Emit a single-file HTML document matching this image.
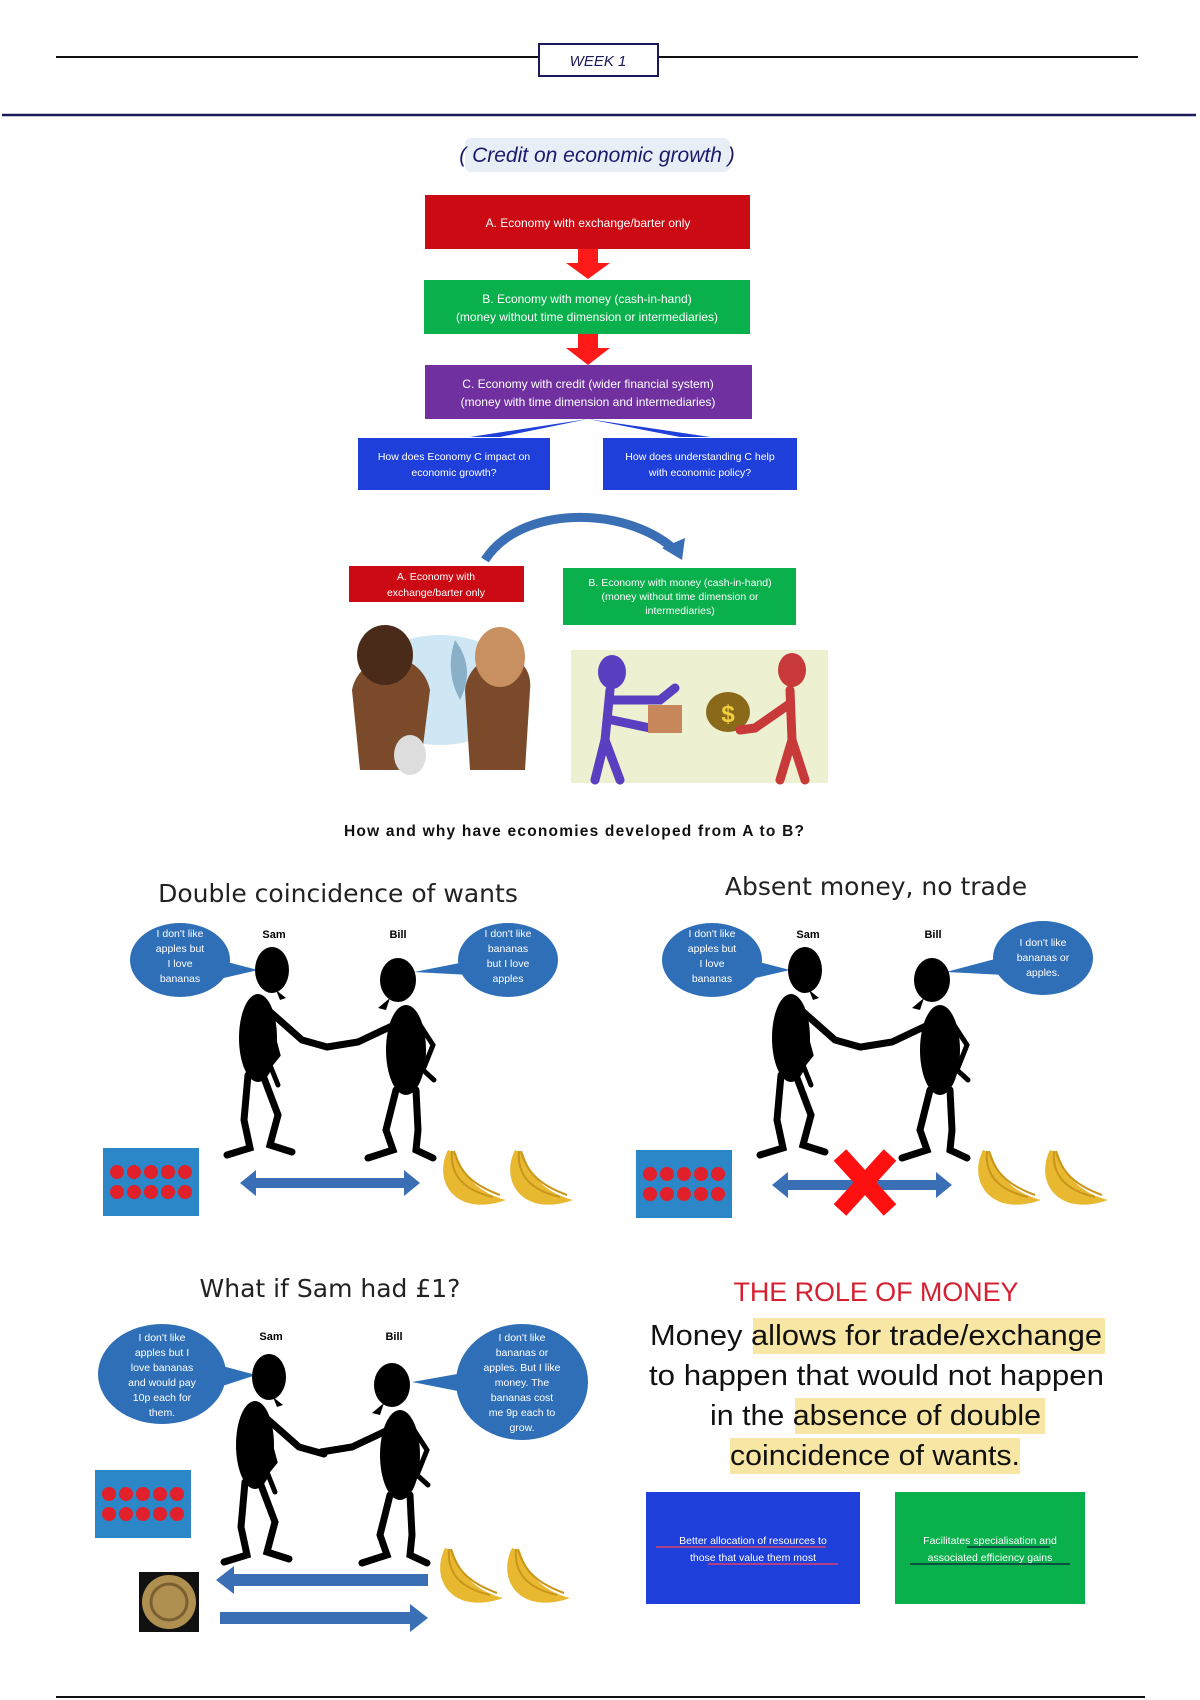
<!DOCTYPE html>
<html><head><meta charset="utf-8"><style>
html,body{margin:0;padding:0;background:#fff;}
svg{display:block;}
text{font-family:"Liberation Sans",sans-serif;}
.n{font-family:"Liberation Sans Narrow","Liberation Sans",sans-serif;fill:#fff;font-size:12px;text-anchor:middle;}
.b{font-family:"Liberation Sans Narrow","Liberation Sans",sans-serif;fill:#fff;font-size:10.5px;text-anchor:middle;}
.t{font-family:"DejaVu Sans","Liberation Sans",sans-serif;text-anchor:middle;fill:#222;}
</style></head><body>
<svg width="1200" height="1700" viewBox="0 0 1200 1700" xmlns="http://www.w3.org/2000/svg">
<defs>
 <g id="sam">
  <ellipse cx="0" cy="0" rx="17" ry="23" fill="#000"/>
  <path d="M4 20 l10 8 l-6 2z" fill="#000"/>
  <ellipse cx="-14" cy="68" rx="19" ry="44" fill="#000"/>
  <path d="M-4 40 L30 70 L55 77" stroke="#000" stroke-width="7" fill="none" stroke-linecap="round"/>
  <path d="M-2 55 L6 85 L-2 95 L6 115" stroke="#000" stroke-width="5" fill="none" stroke-linecap="round"/>
  <path d="M-24 105 L-28 150 L-22 178 L-45 185" stroke="#000" stroke-width="7" fill="none" stroke-linecap="round"/>
  <path d="M-8 108 L6 145 L-2 175 L20 182" stroke="#000" stroke-width="7" fill="none" stroke-linecap="round"/>
 </g>
 <g id="bill">
  <ellipse cx="0" cy="0" rx="18" ry="22" fill="#000"/>
  <path d="M-8 18 l-12 10 l8 2z" fill="#000"/>
  <ellipse cx="8" cy="70" rx="20" ry="45" fill="#000"/>
  <path d="M-4 45 L-40 62 L-71 67" stroke="#000" stroke-width="7" fill="none" stroke-linecap="round"/>
  <path d="M22 45 L35 65 L25 90 L36 100" stroke="#000" stroke-width="5" fill="none" stroke-linecap="round"/>
  <path d="M-2 110 L-12 150 L-5 170 L-30 178" stroke="#000" stroke-width="7" fill="none" stroke-linecap="round"/>
  <path d="M18 110 L20 150 L18 170 L35 178" stroke="#000" stroke-width="7" fill="none" stroke-linecap="round"/>
 </g>
 <g id="apples">
  <rect x="0" y="0" width="96" height="68" fill="#2b87c8"/>
  <g fill="#e0202a">
   <circle cx="14" cy="24" r="7"/><circle cx="31" cy="24" r="7"/><circle cx="48" cy="24" r="7"/><circle cx="65" cy="24" r="7"/><circle cx="82" cy="24" r="7"/>
   <circle cx="14" cy="44" r="7"/><circle cx="31" cy="44" r="7"/><circle cx="48" cy="44" r="7"/><circle cx="65" cy="44" r="7"/><circle cx="82" cy="44" r="7"/>
  </g>
 </g>
 <g id="banana">
  <path d="M10 5 C0 25 5 50 30 58 C45 62 60 58 68 55 C50 50 28 40 18 8z" fill="#e8b830"/>
  <path d="M14 6 C12 30 25 45 55 52" stroke="#c9951a" stroke-width="2" fill="none"/>
  <path d="M16 6 C22 28 35 40 62 50" stroke="#c9951a" stroke-width="2" fill="none"/>
 </g>
</defs>

<!-- header -->
<line x1="56" y1="57" x2="1138" y2="57" stroke="#111" stroke-width="2"/>
<rect x="539" y="44" width="119" height="32" fill="#fff" stroke="#1a1a5a" stroke-width="2"/>
<text x="598" y="66" text-anchor="middle" font-size="15" font-style="italic" fill="#1a1a5a">WEEK 1</text>
<line x1="2" y1="115" x2="1196" y2="115" stroke="#1a1a5a" stroke-width="2.5"/>
<rect x="465" y="138" width="265" height="34" rx="6" fill="#e8eef5"/>
<text x="597" y="162" text-anchor="middle" font-size="21" font-style="italic" fill="#1a1a6a" font-family="Liberation Serif,serif">( Credit on economic growth )</text>

<!-- flowchart -->
<rect x="425" y="195" width="325" height="54" fill="#cc0a14"/>
<text class="n" x="588" y="227">A. Economy with exchange/barter only</text>
<path d="M578 249 h20 v14 h12 l-22 16 l-22 -16 h12z" fill="#ff1a1a"/>
<rect x="424" y="280" width="326" height="54" fill="#0ab04c"/>
<text class="n" x="587" y="303">B. Economy with money (cash-in-hand)</text>
<text class="n" x="587" y="321">(money without time dimension or intermediaries)</text>
<path d="M578 334 h20 v14 h12 l-22 17 l-22 -17 h12z" fill="#ff1a1a"/>
<rect x="425" y="365" width="327" height="54" fill="#7030a0"/>
<text class="n" x="588" y="388">C. Economy with credit (wider financial system)</text>
<text class="n" x="588" y="406">(money with time dimension and intermediaries)</text>
<path d="M588 419 L470 437 L500 437z" fill="#1f3fdb"/>
<path d="M588 419 L680 437 L710 437z" fill="#1f3fdb"/>
<rect x="358" y="438" width="192" height="52" fill="#1f3fdb"/>
<text class="b" x="454" y="460">How does Economy C impact on</text>
<text class="b" x="454" y="476">economic growth?</text>
<rect x="603" y="438" width="194" height="52" fill="#1f3fdb"/>
<text class="b" x="700" y="460">How does understanding C help</text>
<text class="b" x="700" y="476">with economic policy?</text>

<!-- A to B slide -->
<path d="M485 560 C520 505 625 505 675 550" stroke="#3a6fb5" stroke-width="9" fill="none"/>
<path d="M662 548 L682 560 L685 538z" fill="#3a6fb5"/>
<rect x="349" y="566" width="175" height="36" fill="#cc0a14"/>
<text class="b" x="436" y="580" font-size="12">A. Economy with</text>
<text class="b" x="436" y="596" font-size="12">exchange/barter only</text>
<rect x="563" y="568" width="233" height="57" fill="#0ab04c"/>
<text class="b" x="680" y="586">B. Economy with money (cash-in-hand)</text>
<text class="b" x="680" y="600">(money without time dimension or</text>
<text class="b" x="680" y="614">intermediaries)</text>
<!-- cavemen -->
<ellipse cx="440" cy="690" rx="80" ry="55" fill="#cfe6f5"/>
<path d="M352 690 C360 650 420 645 430 690 L420 770 L360 770z" fill="#7a4a2a"/>
<ellipse cx="385" cy="655" rx="28" ry="30" fill="#4a2a18"/>
<path d="M465 690 C470 645 535 645 530 690 L525 770 L470 770z" fill="#7a4a2a"/>
<ellipse cx="500" cy="657" rx="25" ry="30" fill="#c89060"/>
<path d="M455 640 C445 670 455 690 460 700 C470 680 470 660 455 640z" fill="#8ab0c8"/>
<ellipse cx="410" cy="755" rx="16" ry="20" fill="#ddd"/>
<!-- money exchange -->
<rect x="571" y="650" width="257" height="133" fill="#eef0d2"/>
<g stroke="#5a3fc0" stroke-width="9" fill="none" stroke-linecap="round">
 <path d="M610 690 L605 740 L595 780 M605 740 L620 780"/>
 <path d="M612 700 L660 700 L675 688 M612 720 L650 728"/>
</g>
<ellipse cx="612" cy="672" rx="14" ry="17" fill="#5a3fc0"/>
<rect x="648" y="705" width="34" height="28" fill="#c8875a"/>
<ellipse cx="728" cy="712" rx="22" ry="20" fill="#8a6a1a"/>
<text x="728" y="722" text-anchor="middle" font-size="24" font-weight="bold" fill="#f0d040">$</text>
<g stroke="#c83a3a" stroke-width="9" fill="none" stroke-linecap="round">
 <path d="M790 690 L792 740 L780 780 M792 740 L805 780"/>
 <path d="M788 705 L755 728 L740 730"/>
</g>
<ellipse cx="792" cy="670" rx="14" ry="17" fill="#c83a3a"/>
<text x="574" y="836" text-anchor="middle" font-size="15.5" font-weight="bold" fill="#111" textLength="460">How and why have economies developed from A to B?</text>

<!-- Panel 1 -->
<text class="t" x="338" y="902" font-size="25">Double coincidence of wants</text>
<path d="M200 955 L258 970 L215 980z" fill="#2f6fb8"/>
<ellipse cx="180" cy="960" rx="50" ry="37" fill="#2f6fb8"/>
<text class="b" x="180" y="937">I don't like</text><text class="b" x="180" y="952">apples but</text><text class="b" x="180" y="967">I love</text><text class="b" x="180" y="982">bananas</text>
<path d="M475 960 L414 972 L470 975z" fill="#2f6fb8"/>
<ellipse cx="508" cy="960" rx="50" ry="37" fill="#2f6fb8"/>
<text class="b" x="508" y="937">I don't like</text><text class="b" x="508" y="952">bananas</text><text class="b" x="508" y="967">but I love</text><text class="b" x="508" y="982">apples</text>
<text x="274" y="938" text-anchor="middle" font-size="11" font-weight="bold">Sam</text>
<text x="398" y="938" text-anchor="middle" font-size="11" font-weight="bold">Bill</text>
<use href="#sam" x="272" y="970"/>
<use href="#bill" x="398" y="980"/>
<use href="#apples" x="103" y="1148"/>
<path d="M240 1183 L256 1170 V1178 H404 V1170 L420 1183 L404 1196 V1188 H256 V1196z" fill="#3a6fb5"/>
<use href="#banana" x="438" y="1145"/><use href="#banana" x="505" y="1145"/>

<!-- Panel 2 -->
<text class="t" x="876" y="895" font-size="25">Absent money, no trade</text>
<path d="M732 955 L790 970 L747 980z" fill="#2f6fb8"/>
<ellipse cx="712" cy="960" rx="50" ry="37" fill="#2f6fb8"/>
<text class="b" x="712" y="937">I don't like</text><text class="b" x="712" y="952">apples but</text><text class="b" x="712" y="967">I love</text><text class="b" x="712" y="982">bananas</text>
<path d="M1010 955 L946 972 L1005 975z" fill="#2f6fb8"/>
<ellipse cx="1043" cy="958" rx="50" ry="37" fill="#2f6fb8"/>
<text class="b" x="1043" y="946">I don't like</text><text class="b" x="1043" y="961">bananas or</text><text class="b" x="1043" y="976">apples.</text>
<text x="808" y="938" text-anchor="middle" font-size="11" font-weight="bold">Sam</text>
<text x="933" y="938" text-anchor="middle" font-size="11" font-weight="bold">Bill</text>
<use href="#sam" x="805" y="970"/>
<use href="#bill" x="932" y="980"/>
<use href="#apples" x="636" y="1150"/>
<path d="M772 1185 L788 1172 V1180 H936 V1172 L952 1185 L936 1198 V1190 H788 V1198z" fill="#3a6fb5"/>
<path d="M840 1155 L890 1210 M890 1155 L840 1210" stroke="#ff1010" stroke-width="17"/>
<use href="#banana" x="973" y="1145"/><use href="#banana" x="1040" y="1145"/>

<!-- Panel 3 -->
<text class="t" x="330" y="1297" font-size="25">What if Sam had £1?</text>
<path d="M200 1360 L256 1375 L210 1390z" fill="#2f6fb8"/>
<ellipse cx="162" cy="1374" rx="64" ry="50" fill="#2f6fb8"/>
<text class="b" x="162" y="1341">I don't like</text><text class="b" x="162" y="1356">apples but I</text><text class="b" x="162" y="1371">love bananas</text><text class="b" x="162" y="1386">and would pay</text><text class="b" x="162" y="1401">10p each for</text><text class="b" x="162" y="1416">them.</text>
<path d="M480 1370 L412 1382 L478 1395z" fill="#2f6fb8"/>
<ellipse cx="522" cy="1382" rx="66" ry="58" fill="#2f6fb8"/>
<text class="b" x="522" y="1341">I don't like</text><text class="b" x="522" y="1356">bananas or</text><text class="b" x="522" y="1371">apples. But I like</text><text class="b" x="522" y="1386">money. The</text><text class="b" x="522" y="1401">bananas cost</text><text class="b" x="522" y="1416">me 9p each to</text><text class="b" x="522" y="1431">grow.</text>
<text x="271" y="1340" text-anchor="middle" font-size="11" font-weight="bold">Sam</text>
<text x="394" y="1340" text-anchor="middle" font-size="11" font-weight="bold">Bill</text>
<use href="#sam" x="269" y="1377"/>
<use href="#bill" x="392" y="1385"/>
<use href="#apples" x="95" y="1470"/>
<rect x="139" y="1572" width="60" height="60" fill="#111"/>
<circle cx="169" cy="1602" r="27" fill="#b09050"/>
<circle cx="169" cy="1602" r="18" fill="none" stroke="#7a6030" stroke-width="3"/>
<path d="M216 1580 L234 1566 V1574 H428 V1586 H234 V1594z" fill="#3a6fb5"/>
<path d="M220 1612 H410 V1604 L428 1618 L410 1632 V1624 H220z" fill="#3a6fb5"/>
<use href="#banana" x="435" y="1543"/><use href="#banana" x="502" y="1543"/>

<!-- Role of money -->
<text x="876" y="1301" text-anchor="middle" font-size="27" fill="#d42030" font-family="DejaVu Sans,sans-serif" textLength="285">THE ROLE OF MONEY</text>
<g font-family="DejaVu Sans,sans-serif" font-size="28.5" fill="#111">
 <rect x="753" y="1318" width="352" height="36" fill="#f7e6a4"/>
 <text x="650" y="1345" textLength="452" lengthAdjust="spacingAndGlyphs">Money allows for trade/exchange</text>
 <text x="649" y="1385" textLength="455" lengthAdjust="spacingAndGlyphs">to happen that would not happen</text>
 <rect x="795" y="1398" width="250" height="36" fill="#f7e6a4"/>
 <text x="710" y="1425" textLength="331" lengthAdjust="spacingAndGlyphs">in the absence of double</text>
 <rect x="730" y="1438" width="290" height="36" fill="#f7e6a4"/>
 <text x="730" y="1465" textLength="290" lengthAdjust="spacingAndGlyphs">coincidence of wants.</text>
</g>
<rect x="646" y="1492" width="214" height="112" fill="#1f3fdb"/>
<text class="b" x="753" y="1544" font-size="12.5">Better allocation of resources to</text>
<text class="b" x="753" y="1561" font-size="12.5">those that value them most</text>
<line x1="656" y1="1547" x2="826" y2="1547" stroke="#e0406a" stroke-width="1.5"/>
<line x1="708" y1="1564" x2="838" y2="1564" stroke="#e0406a" stroke-width="1.5"/>
<rect x="895" y="1492" width="190" height="112" fill="#0ab04c"/>
<text class="b" x="990" y="1544" font-size="12.5">Facilitates specialisation and</text>
<text class="b" x="990" y="1561" font-size="12.5">associated efficiency gains</text>
<line x1="967" y1="1547" x2="1050" y2="1547" stroke="#0a3040" stroke-width="1.5"/>
<line x1="910" y1="1564" x2="1070" y2="1564" stroke="#0a3040" stroke-width="1.5"/>

<line x1="56" y1="1697" x2="1145" y2="1697" stroke="#111" stroke-width="2"/>
</svg>
</body></html>
